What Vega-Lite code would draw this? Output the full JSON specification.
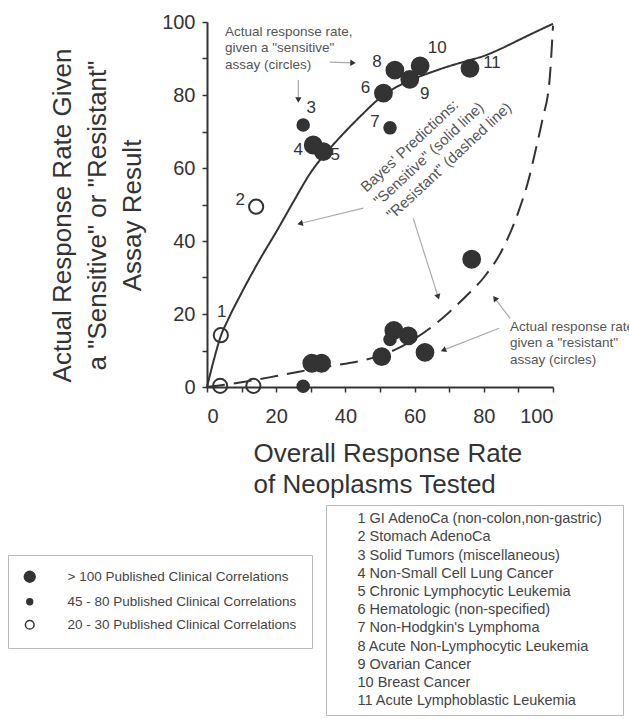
{
  "$schema": "https://vega.github.io/schema/vega-lite/v6.json",
  "width": 346,
  "height": 365,
  "autosize": {"type": "none"},
  "padding": {"left": 207, "top": 22, "right": 76, "bottom": 332},
  "background": "white",
  "config": {
    "view": {"stroke": null},
    "font": "Liberation Sans",
    "axis": {
      "grid": false,
      "domainColor": "#333",
      "domainWidth": 2,
      "tickColor": "#333",
      "tickWidth": 1.5,
      "tickSize": 5,
      "labelFont": "Liberation Sans",
      "labelFontSize": 20,
      "labelColor": "#333",
      "titleFont": "Liberation Sans",
      "titleFontSize": 26,
      "titleFontWeight": "normal",
      "titleColor": "#333"
    }
  },
  "datasets": {
    "curves": [
      {"prediction": "Sensitive", "overall": 0, "actual": 0},
      {"prediction": "Sensitive", "overall": 2, "actual": 7.5},
      {"prediction": "Sensitive", "overall": 4, "actual": 14},
      {"prediction": "Sensitive", "overall": 6, "actual": 18.3},
      {"prediction": "Sensitive", "overall": 10, "actual": 25.8},
      {"prediction": "Sensitive", "overall": 15, "actual": 34.5},
      {"prediction": "Sensitive", "overall": 20, "actual": 42.5},
      {"prediction": "Sensitive", "overall": 25, "actual": 50.8},
      {"prediction": "Sensitive", "overall": 30, "actual": 58.8},
      {"prediction": "Sensitive", "overall": 35, "actual": 64.8},
      {"prediction": "Sensitive", "overall": 40, "actual": 70},
      {"prediction": "Sensitive", "overall": 45, "actual": 74.8},
      {"prediction": "Sensitive", "overall": 50, "actual": 79.2},
      {"prediction": "Sensitive", "overall": 55, "actual": 82.3},
      {"prediction": "Sensitive", "overall": 60, "actual": 84.5},
      {"prediction": "Sensitive", "overall": 65, "actual": 86.3},
      {"prediction": "Sensitive", "overall": 70, "actual": 87.9},
      {"prediction": "Sensitive", "overall": 75, "actual": 89.3},
      {"prediction": "Sensitive", "overall": 80, "actual": 90.7},
      {"prediction": "Sensitive", "overall": 85, "actual": 92.7},
      {"prediction": "Sensitive", "overall": 90, "actual": 95},
      {"prediction": "Sensitive", "overall": 95, "actual": 97.3},
      {"prediction": "Sensitive", "overall": 100, "actual": 99.5},
      {"prediction": "Resistant", "overall": 0, "actual": 0},
      {"prediction": "Resistant", "overall": 5, "actual": 0.6},
      {"prediction": "Resistant", "overall": 10, "actual": 1.3},
      {"prediction": "Resistant", "overall": 15, "actual": 2.1},
      {"prediction": "Resistant", "overall": 20, "actual": 3},
      {"prediction": "Resistant", "overall": 25, "actual": 3.9},
      {"prediction": "Resistant", "overall": 30, "actual": 4.8},
      {"prediction": "Resistant", "overall": 35, "actual": 5.6},
      {"prediction": "Resistant", "overall": 40, "actual": 6.4},
      {"prediction": "Resistant", "overall": 45, "actual": 7.3},
      {"prediction": "Resistant", "overall": 50, "actual": 8.6},
      {"prediction": "Resistant", "overall": 55, "actual": 10.5},
      {"prediction": "Resistant", "overall": 60, "actual": 13.2},
      {"prediction": "Resistant", "overall": 65, "actual": 16.5},
      {"prediction": "Resistant", "overall": 70, "actual": 20.5},
      {"prediction": "Resistant", "overall": 75, "actual": 25},
      {"prediction": "Resistant", "overall": 80, "actual": 30},
      {"prediction": "Resistant", "overall": 85, "actual": 37},
      {"prediction": "Resistant", "overall": 90, "actual": 48},
      {"prediction": "Resistant", "overall": 93, "actual": 57},
      {"prediction": "Resistant", "overall": 95, "actual": 65},
      {"prediction": "Resistant", "overall": 97, "actual": 73.5},
      {"prediction": "Resistant", "overall": 99, "actual": 84},
      {"prediction": "Resistant", "overall": 100, "actual": 99}
    ],
    "points": [
      {"id": 1, "assay": "sensitive", "overall": 4.0, "actual": 14.2, "corr": "20 - 30 Published Clinical Correlations", "neoplasm": "1 GI AdenoCa (non-colon,non-gastric)"},
      {"id": 2, "assay": "sensitive", "overall": 14.2, "actual": 49.4, "corr": "20 - 30 Published Clinical Correlations", "neoplasm": "2 Stomach AdenoCa"},
      {"id": 3, "assay": "sensitive", "overall": 27.8, "actual": 71.8, "corr": "45 - 80 Published Clinical Correlations", "neoplasm": "3 Solid Tumors (miscellaneous)"},
      {"id": 4, "assay": "sensitive", "overall": 30.7, "actual": 66.3, "corr": "> 100 Published Clinical Correlations", "neoplasm": "4 Non-Small Cell Lung Cancer"},
      {"id": 5, "assay": "sensitive", "overall": 33.6, "actual": 64.5, "corr": "> 100 Published Clinical Correlations", "neoplasm": "5 Chronic Lymphocytic Leukemia"},
      {"id": 6, "assay": "sensitive", "overall": 51.0, "actual": 80.5, "corr": "> 100 Published Clinical Correlations", "neoplasm": "6 Hematologic (non-specified)"},
      {"id": 7, "assay": "sensitive", "overall": 52.9, "actual": 71.0, "corr": "45 - 80 Published Clinical Correlations", "neoplasm": "7 Non-Hodgkin's Lymphoma"},
      {"id": 8, "assay": "sensitive", "overall": 54.3, "actual": 86.8, "corr": "> 100 Published Clinical Correlations", "neoplasm": "8 Acute Non-Lymphocytic Leukemia"},
      {"id": 9, "assay": "sensitive", "overall": 58.6, "actual": 84.3, "corr": "> 100 Published Clinical Correlations", "neoplasm": "9 Ovarian Cancer"},
      {"id": 10, "assay": "sensitive", "overall": 61.6, "actual": 88.0, "corr": "> 100 Published Clinical Correlations", "neoplasm": "10 Breast Cancer"},
      {"id": 11, "assay": "sensitive", "overall": 76.0, "actual": 87.3, "corr": "> 100 Published Clinical Correlations", "neoplasm": "11 Acute Lymphoblastic Leukemia"},
      {"id": 1, "assay": "resistant", "overall": 3.8, "actual": 0.3, "corr": "20 - 30 Published Clinical Correlations", "neoplasm": "1 GI AdenoCa (non-colon,non-gastric)"},
      {"id": 2, "assay": "resistant", "overall": 13.4, "actual": 0.3, "corr": "20 - 30 Published Clinical Correlations", "neoplasm": "2 Stomach AdenoCa"},
      {"id": 3, "assay": "resistant", "overall": 27.8, "actual": 0.2, "corr": "45 - 80 Published Clinical Correlations", "neoplasm": "3 Solid Tumors (miscellaneous)"},
      {"id": 4, "assay": "resistant", "overall": 30.3, "actual": 6.5, "corr": "> 100 Published Clinical Correlations", "neoplasm": "4 Non-Small Cell Lung Cancer"},
      {"id": 5, "assay": "resistant", "overall": 33.1, "actual": 6.5, "corr": "> 100 Published Clinical Correlations", "neoplasm": "5 Chronic Lymphocytic Leukemia"},
      {"id": 6, "assay": "resistant", "overall": 50.5, "actual": 8.3, "corr": "> 100 Published Clinical Correlations", "neoplasm": "6 Hematologic (non-specified)"},
      {"id": 7, "assay": "resistant", "overall": 52.9, "actual": 13.0, "corr": "45 - 80 Published Clinical Correlations", "neoplasm": "7 Non-Hodgkin's Lymphoma"},
      {"id": 8, "assay": "resistant", "overall": 54.0, "actual": 15.5, "corr": "> 100 Published Clinical Correlations", "neoplasm": "8 Acute Non-Lymphocytic Leukemia"},
      {"id": 9, "assay": "resistant", "overall": 58.2, "actual": 14.0, "corr": "> 100 Published Clinical Correlations", "neoplasm": "9 Ovarian Cancer"},
      {"id": 10, "assay": "resistant", "overall": 63.0, "actual": 9.5, "corr": "> 100 Published Clinical Correlations", "neoplasm": "10 Breast Cancer"},
      {"id": 11, "assay": "resistant", "overall": 76.5, "actual": 35.0, "corr": "> 100 Published Clinical Correlations", "neoplasm": "11 Acute Lymphoblastic Leukemia"}
    ],
    "arrows": [
      {"arrow": 0, "end": "tail", "overall": 35.5, "actual": 89.0},
      {"arrow": 0, "end": "head", "overall": 42.2, "actual": 88.8},
      {"arrow": 1, "end": "tail", "overall": 26.4, "actual": 84.1},
      {"arrow": 1, "end": "head", "overall": 26.4, "actual": 78.6},
      {"arrow": 2, "end": "tail", "overall": 45.2, "actual": 49.0},
      {"arrow": 2, "end": "head", "overall": 26.9, "actual": 44.8},
      {"arrow": 3, "end": "tail", "overall": 59.6, "actual": 46.2},
      {"arrow": 3, "end": "head", "overall": 66.8, "actual": 24.7},
      {"arrow": 4, "end": "tail", "overall": 87.6, "actual": 18.8},
      {"arrow": 4, "end": "head", "overall": 83.2, "actual": 24.3},
      {"arrow": 5, "end": "tail", "overall": 84.4, "actual": 16.1},
      {"arrow": 5, "end": "head", "overall": 68.3, "actual": 10.1}
    ],
    "notes": [
      {"kind": "flat", "overall": 5.2, "actual": 99.2, "note": "Actual response rate,\ngiven a \"sensitive\"\nassay (circles)"},
      {"kind": "flat", "overall": 87.6, "actual": 18.4, "note": "Actual response rate\ngiven a \"resistant\"\nassay (circles)"},
      {"kind": "rotated", "overall": 45.1, "actual": 54.2, "note": "Bayes' Predictions:\n\"Sensitive\" (solid line)\n\"Resistant\" (dashed line)"}
    ]
  },
  "encoding": {
    "x": {
      "field": "overall",
      "type": "quantitative",
      "scale": {"domain": [0, 100], "nice": false, "zero": false},
      "axis": {
        "values": [0, 10, 20, 30, 40, 50, 60, 70, 80, 90, 100],
        "labelExpr": "datum.value % 20 === 0 ? datum.label : ''",
        "labelPadding": 14,
        "title": ["Overall Response Rate", "of Neoplasms Tested"],
        "titleX": 46,
        "titleY": 53,
        "titleAlign": "left",
        "titleBaseline": "top",
        "titleLineHeight": 31
      }
    },
    "y": {
      "field": "actual",
      "type": "quantitative",
      "scale": {"domain": [0, 100], "nice": false, "zero": false},
      "axis": {
        "values": [0, 10, 20, 30, 40, 50, 60, 70, 80, 90, 100],
        "labelExpr": "datum.value % 20 === 0 ? datum.label : ''",
        "labelPadding": 7,
        "title": ["Actual Response Rate Given", "a \"Sensitive\" or \"Resistant\"", "Assay Result"],
        "titleX": -145,
        "titleY": 193,
        "titleAngle": -90,
        "titleAlign": "center",
        "titleBaseline": "middle",
        "titleLineHeight": 35
      }
    }
  },
  "layer": [
    {
      "data": {"name": "curves"},
      "mark": {"type": "line", "interpolate": "monotone", "color": "#333", "strokeWidth": 2},
      "encoding": {
        "detail": {"field": "prediction"},
        "strokeDash": {
          "field": "prediction",
          "type": "nominal",
          "scale": {"domain": ["Sensitive", "Resistant"], "range": [[1, 0], [18, 9]]},
          "legend": null
        }
      }
    },
    {
      "data": {"name": "arrows"},
      "mark": {"type": "line", "color": "#aaa", "strokeWidth": 1.2},
      "encoding": {
        "detail": {"field": "arrow"},
        "order": {"field": "end", "sort": "descending"}
      }
    },
    {
      "data": {"name": "arrows"},
      "transform": [{"filter": "datum.end === 'head'"}],
      "mark": {
        "type": "point",
        "shape": "triangle-up",
        "filled": true,
        "color": "#333",
        "opacity": 1,
        "size": 40,
        "angle": {"expr": "[92, 180, 256, 162, 323, 248][datum.arrow]"}
      }
    },
    {
      "data": {"name": "points"},
      "transform": [{"filter": "false"}],
      "mark": {"type": "point", "stroke": "#333", "strokeWidth": 2, "opacity": 1},
      "encoding": {
        "fill": {
          "field": "corr",
          "type": "nominal",
          "scale": {
            "domain": ["> 100 Published Clinical Correlations", "20 - 30 Published Clinical Correlations", "45 - 80 Published Clinical Correlations"],
            "range": ["#333333", "transparent", "#333333"]
          },
          "legend": {
            "title": null,
            "orient": "none",
            "legendX": -199,
            "legendY": 533,
            "values": ["> 100 Published Clinical Correlations", "45 - 80 Published Clinical Correlations", "20 - 30 Published Clinical Correlations"],
            "padding": 15,
            "strokeColor": "#bbb",
            "fillColor": "white",
            "labelFont": "Liberation Sans",
            "labelFontSize": 13.5,
            "labelColor": "#444",
            "labelOffset": 31,
            "labelLimit": 400,
            "rowPadding": 8,
            "symbolType": "circle"
          }
        },
        "size": {
          "field": "corr",
          "type": "nominal",
          "scale": {
            "domain": ["> 100 Published Clinical Correlations", "20 - 30 Published Clinical Correlations", "45 - 80 Published Clinical Correlations"],
            "range": [118, 34],
            "padding": 0
          },
          "legend": {
            "title": null,
            "orient": "none",
            "legendX": -199,
            "legendY": 533,
            "values": ["> 100 Published Clinical Correlations", "45 - 80 Published Clinical Correlations", "20 - 30 Published Clinical Correlations"],
            "padding": 15,
            "strokeColor": "#bbb",
            "fillColor": "white",
            "labelFont": "Liberation Sans",
            "labelFontSize": 13.5,
            "labelColor": "#444",
            "labelOffset": 31,
            "labelLimit": 400,
            "rowPadding": 8,
            "symbolType": "circle"
          }
        }
      }
    },
    {
      "data": {"name": "points"},
      "mark": {
        "type": "point",
        "stroke": "#333",
        "strokeWidth": 2,
        "opacity": 1,
        "size": {"expr": "indexof(datum.corr, '> 100') === 0 ? 283 : indexof(datum.corr, '45') === 0 ? 133 : 201"}
      },
      "encoding": {
        "fill": {
          "field": "corr",
          "type": "nominal",
          "legend": {
            "title": null,
            "orient": "none",
            "legendX": -199,
            "legendY": 533,
            "values": ["> 100 Published Clinical Correlations", "45 - 80 Published Clinical Correlations", "20 - 30 Published Clinical Correlations"],
            "padding": 15,
            "strokeColor": "#bbb",
            "fillColor": "white",
            "labelFont": "Liberation Sans",
            "labelFontSize": 13.5,
            "labelColor": "#444",
            "labelOffset": 31,
            "labelLimit": 400,
            "rowPadding": 8,
            "symbolType": "circle"
          }
        },
        "shape": {
          "field": "neoplasm",
          "type": "nominal",
          "scale": {
            "domain": ["1 GI AdenoCa (non-colon,non-gastric)", "2 Stomach AdenoCa", "3 Solid Tumors (miscellaneous)", "4 Non-Small Cell Lung Cancer", "5 Chronic Lymphocytic Leukemia", "6 Hematologic (non-specified)", "7 Non-Hodgkin's Lymphoma", "8 Acute Non-Lymphocytic Leukemia", "9 Ovarian Cancer", "10 Breast Cancer", "11 Acute Lymphoblastic Leukemia"],
            "range": ["circle", "circle", "circle", "circle", "circle", "circle", "circle", "circle", "circle", "circle", "circle"]
          },
          "legend": {
            "title": " ",
            "titleOrient": "right",
            "titlePadding": 13,
            "orient": "none",
            "legendX": 119,
            "legendY": 483,
            "padding": 7,
            "strokeColor": "#bbb",
            "fillColor": "white",
            "labelFont": "Liberation Sans",
            "labelFontSize": 14.5,
            "labelColor": "#444",
            "labelOffset": 10,
            "labelLimit": 400,
            "rowPadding": 3.2,
            "symbolSize": 0,
            "symbolOpacity": 0,
            "symbolStrokeWidth": 0
          }
        }
      }
    },
    {
      "data": {"name": "points"},
      "transform": [{"filter": "datum.assay === 'sensitive'"}],
      "mark": {
        "type": "text",
        "font": "Liberation Sans",
        "fontSize": 17,
        "color": "#333",
        "align": "center",
        "baseline": "middle",
        "dx": {"expr": "[0, 1, -16, 8, -15, 12, -18, -15, -18, 15, 17, 22][datum.id]"},
        "dy": {"expr": "[0, -23, -7, -17, 5, 3, -5, -6, -8, 15, -18, -5][datum.id]"}
      },
      "encoding": {
        "text": {"field": "id", "type": "nominal"}
      }
    },
    {
      "data": {"name": "notes"},
      "transform": [{"filter": "datum.kind === 'flat'"}],
      "mark": {
        "type": "text",
        "font": "Liberation Sans",
        "fontSize": 13.5,
        "lineHeight": 16.5,
        "color": "#555",
        "align": "left",
        "baseline": "top",
        "lineBreak": "\n"
      },
      "encoding": {
        "text": {"field": "note", "type": "nominal"}
      }
    },
    {
      "data": {"name": "notes"},
      "transform": [{"filter": "datum.kind === 'rotated'"}],
      "mark": {
        "type": "text",
        "font": "Liberation Sans",
        "fontSize": 15,
        "lineHeight": 19,
        "color": "#555",
        "align": "left",
        "baseline": "middle",
        "angle": -43,
        "lineBreak": "\n"
      },
      "encoding": {
        "text": {"field": "note", "type": "nominal"}
      }
    }
  ]
}
